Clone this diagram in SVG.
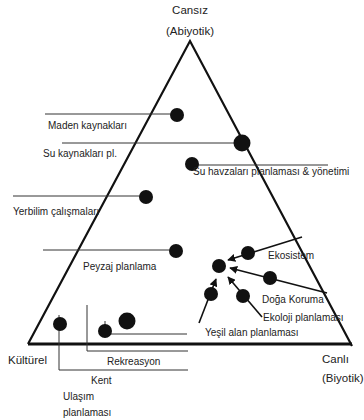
<svg xmlns="http://www.w3.org/2000/svg" width="364" height="420" viewBox="0 0 364 420">
<defs>
<style>
text{font-family:"Liberation Sans","DejaVu Sans",sans-serif;font-size:10px;fill:#222}
.big{font-size:11.5px}
.lead{stroke:#333;stroke-width:1;fill:none}
.arr{stroke:#111;stroke-width:1.6;fill:none;marker-end:url(#ah)}
.dot{fill:#111}
.tri{stroke:#111;stroke-width:2.2;fill:none}
</style>
<marker id="ah" viewBox="0 0 10 10" refX="9" refY="5" markerWidth="5" markerHeight="5" orient="auto">
<path d="M0,0 L10,5 L0,10 z" fill="#111"/>
</marker>
</defs>
<rect width="364" height="420" fill="#fff"/>
<g id="triangle">
<path class="tri" d="M28,344 L190,41 L352,346"/>
<line x1="28" y1="344" x2="352" y2="344" stroke="#111" stroke-width="3"/>
</g>
<g id="connectors">
<line class="lead" x1="45" y1="114" x2="177" y2="114"/>
<line class="lead" x1="62" y1="143" x2="242" y2="143"/>
<line class="lead" x1="192" y1="165" x2="328" y2="165"/>
<line class="lead" x1="13" y1="196" x2="146" y2="196"/>
<line class="lead" x1="43" y1="250" x2="176" y2="250"/>
<line class="arr" x1="302" y1="237" x2="228" y2="260"/>
<line class="arr" x1="327" y1="293" x2="230" y2="268"/>
<line class="arr" x1="262" y1="317" x2="228" y2="277"/>
<line class="arr" x1="199" y1="323" x2="216" y2="279"/>
<polyline class="lead" points="59,315 59,370 188,370"/>
<polyline class="lead" points="87,305 87,351 188,351"/>
<polyline class="lead" points="105,321 105,334 187,334"/>
</g>
<g id="n-cansiz"><text class="big" x="190" y="14" text-anchor="middle">Cansız</text><text class="big" x="190" y="35" text-anchor="middle">(Abiyotik)</text></g>
<g id="n-kulturel"><text class="big" x="8" y="364">Kültürel</text></g>
<g id="n-canli"><text class="big" x="322" y="363">Canlı</text><text class="big" x="322" y="382">(Biyotik)</text></g>
<g id="n-maden"><circle class="dot" cx="177" cy="115" r="7"/><text x="48" y="129">Maden kaynakları</text></g>
<g id="n-sukaynak"><circle class="dot" cx="242" cy="143" r="8.5"/><text x="43" y="157">Su kaynakları pl.</text></g>
<g id="n-suhavza"><circle class="dot" cx="192" cy="164" r="7"/><text x="193" y="175">Su havzaları planlaması &amp; yönetimi</text></g>
<g id="n-yerbilim"><circle class="dot" cx="146" cy="197" r="7"/><text x="13" y="215">Yerbilim çalışmaları</text></g>
<g id="n-peyzaj"><circle class="dot" cx="176" cy="251" r="7"/><text x="83" y="270">Peyzaj planlama</text></g>
<g id="n-ekosistem"><circle class="dot" cx="248" cy="253" r="7"/><text x="268" y="259">Ekosistem</text></g>
<g id="n-center"><circle class="dot" cx="219" cy="266" r="7"/></g>
<g id="n-doga"><circle class="dot" cx="270" cy="278" r="7"/><text x="262" y="303">Doğa Koruma</text></g>
<g id="n-ekoloji"><circle class="dot" cx="243" cy="296" r="7"/><text x="263" y="321">Ekoloji planlaması</text></g>
<g id="n-yesil"><circle class="dot" cx="211" cy="294" r="7"/><text x="205" y="336">Yeşil alan planlaması</text></g>
<g id="n-ulasim"><circle class="dot" cx="60" cy="324" r="7"/><text x="63" y="400">Ulaşım</text><text x="63" y="416">planlaması</text></g>
<g id="n-kent"><circle class="dot" cx="105" cy="331" r="7"/><text x="91" y="384">Kent</text></g>
<g id="n-rekreasyon"><circle class="dot" cx="127" cy="321" r="8.5"/><text x="107" y="365">Rekreasyon</text></g>
</svg>
